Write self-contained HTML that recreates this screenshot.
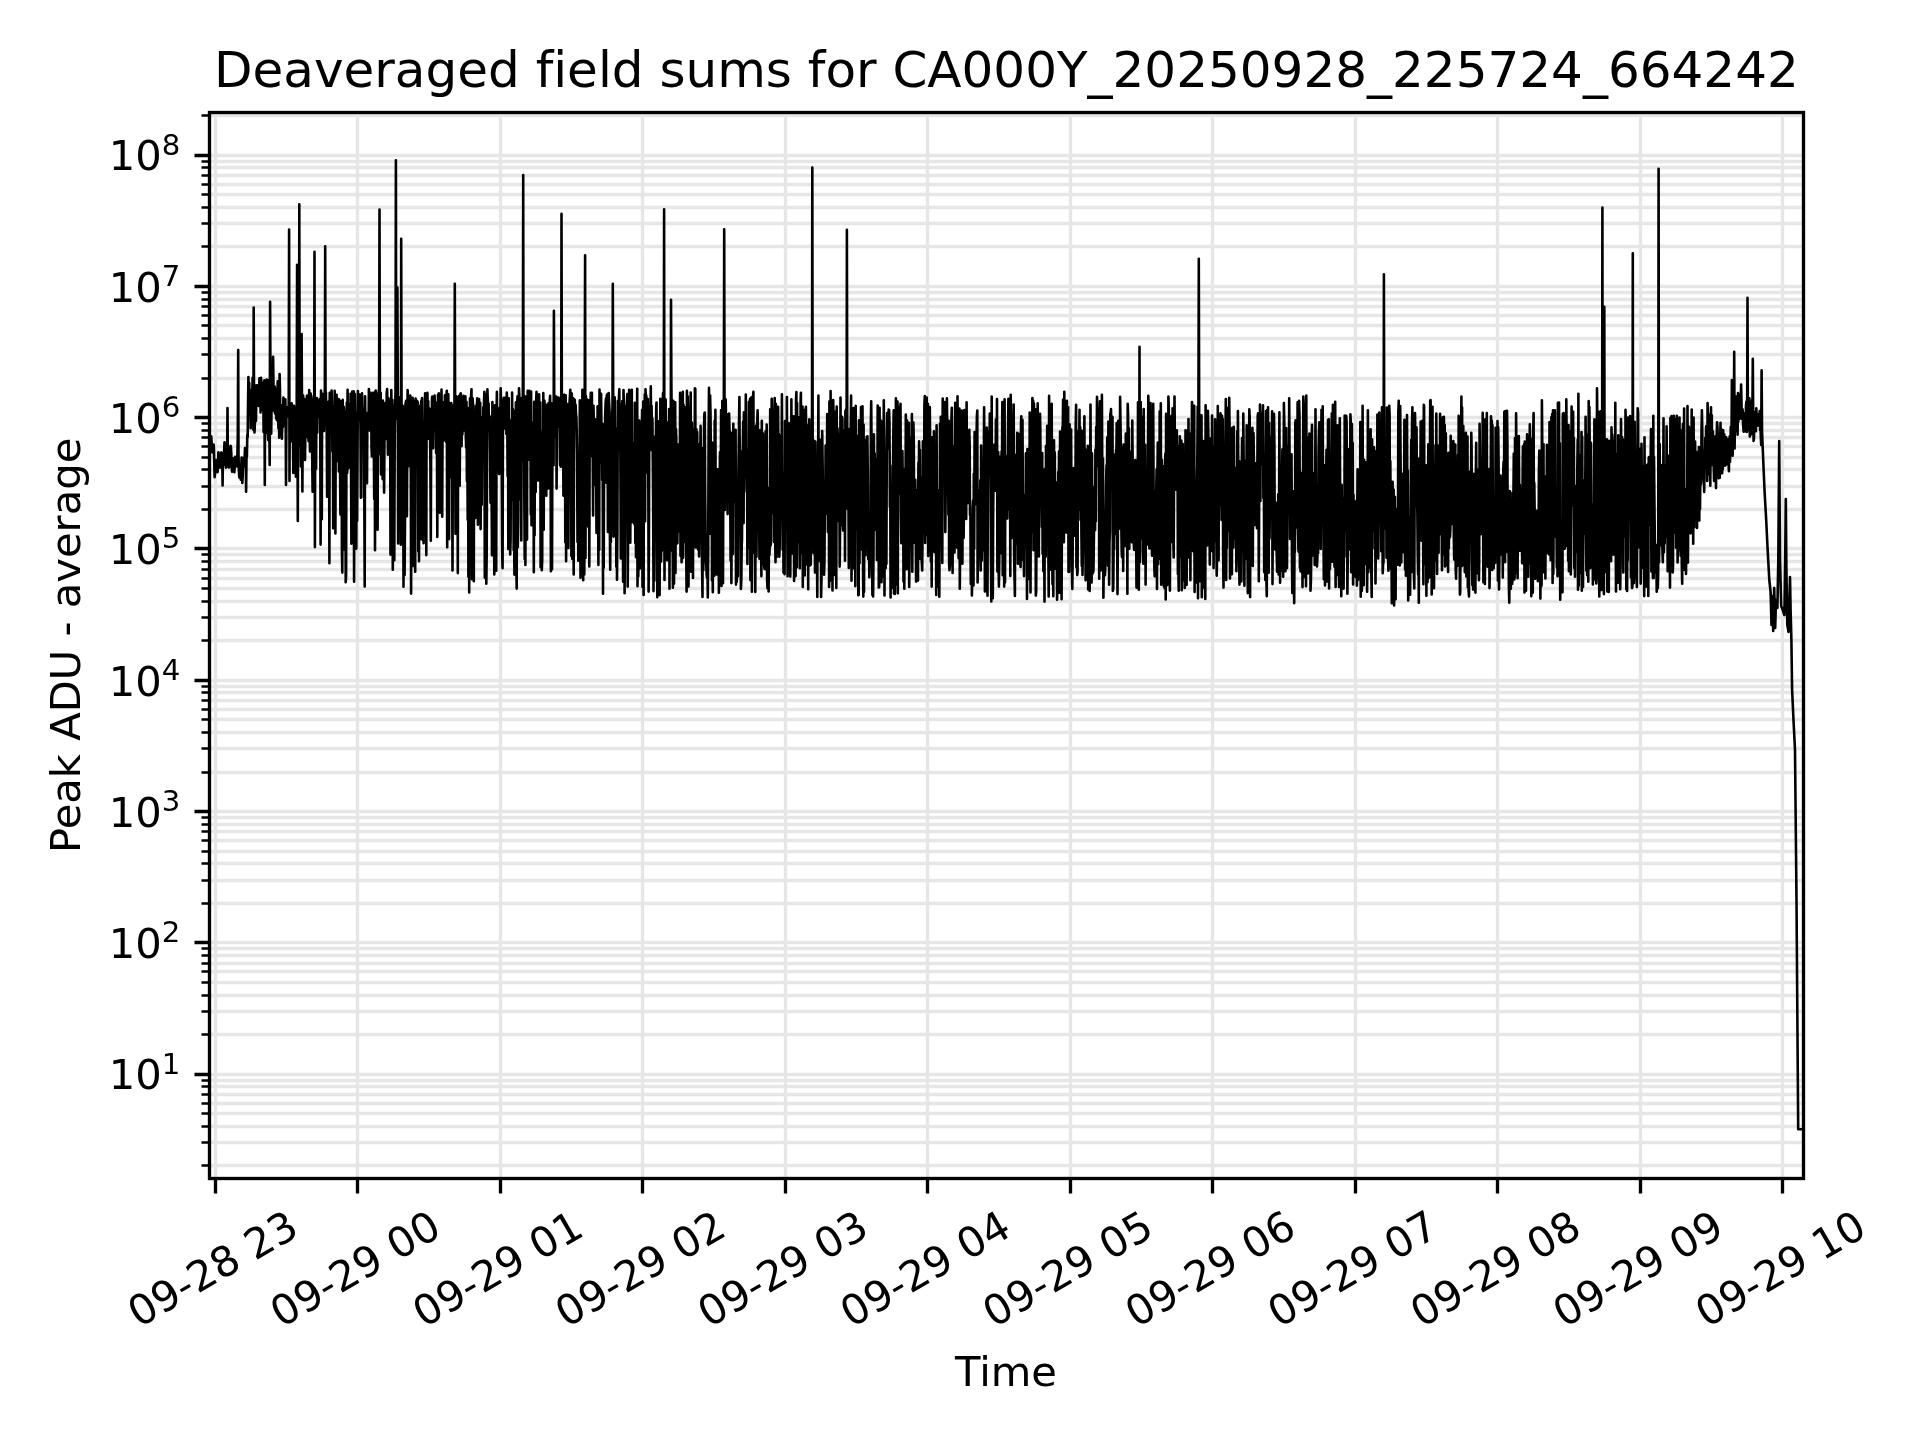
<!DOCTYPE html>
<html lang="en"><head><meta charset="utf-8"><title>Deaveraged field sums</title>
<style>html,body{margin:0;padding:0;background:#fff;}body{width:1920px;height:1440px;overflow:hidden;}svg{display:block;filter:grayscale(1);}text{font-family:"DejaVu Sans", "Liberation Sans", sans-serif;fill:#000;font-variant-ligatures:none;font-kerning:normal;}</style></head><body>
<svg width="1920" height="1440" viewBox="0 0 1920 1440">
<rect x="0" y="0" width="1920" height="1440" fill="#ffffff"/>
<defs><clipPath id="ax"><rect x="208.907" y="112.000" width="1594.393" height="1065.606"/></clipPath></defs>
<g clip-path="url(#ax)"><path d="M215.5 112.0V1177.6M357.5 112.0V1177.6M500.5 112.0V1177.6M642.5 112.0V1177.6M785.5 112.0V1177.6M927.5 112.0V1177.6M1070.5 112.0V1177.6M1212.5 112.0V1177.6M1355.5 112.0V1177.6M1497.5 112.0V1177.6M1640.5 112.0V1177.6M1782.5 112.0V1177.6M208.9 1165.5H1803.3M208.9 1142.5H1803.3M208.9 1126.5H1803.3M208.9 1113.5H1803.3M208.9 1103.5H1803.3M208.9 1094.5H1803.3M208.9 1086.5H1803.3M208.9 1080.5H1803.3M208.9 1074.5H1803.3M208.9 1034.5H1803.3M208.9 1011.5H1803.3M208.9 995.5H1803.3M208.9 982.5H1803.3M208.9 971.5H1803.3M208.9 963.5H1803.3M208.9 955.5H1803.3M208.9 948.5H1803.3M208.9 942.5H1803.3M208.9 903.5H1803.3M208.9 880.5H1803.3M208.9 863.5H1803.3M208.9 851.5H1803.3M208.9 840.5H1803.3M208.9 831.5H1803.3M208.9 824.5H1803.3M208.9 817.5H1803.3M208.9 811.5H1803.3M208.9 772.5H1803.3M208.9 748.5H1803.3M208.9 732.5H1803.3M208.9 719.5H1803.3M208.9 709.5H1803.3M208.9 700.5H1803.3M208.9 692.5H1803.3M208.9 686.5H1803.3M208.9 680.5H1803.3M208.9 640.5H1803.3M208.9 617.5H1803.3M208.9 601.5H1803.3M208.9 588.5H1803.3M208.9 578.5H1803.3M208.9 569.5H1803.3M208.9 561.5H1803.3M208.9 554.5H1803.3M208.9 548.5H1803.3M208.9 509.5H1803.3M208.9 486.5H1803.3M208.9 469.5H1803.3M208.9 457.5H1803.3M208.9 446.5H1803.3M208.9 437.5H1803.3M208.9 430.5H1803.3M208.9 423.5H1803.3M208.9 417.5H1803.3M208.9 378.5H1803.3M208.9 354.5H1803.3M208.9 338.5H1803.3M208.9 325.5H1803.3M208.9 315.5H1803.3M208.9 306.5H1803.3M208.9 299.5H1803.3M208.9 292.5H1803.3M208.9 286.5H1803.3M208.9 246.5H1803.3M208.9 223.5H1803.3M208.9 207.5H1803.3M208.9 194.5H1803.3M208.9 184.5H1803.3M208.9 175.5H1803.3M208.9 167.5H1803.3M208.9 161.5H1803.3M208.9 155.5H1803.3M208.9 115.5H1803.3" stroke="#e6e6e6" stroke-width="3.333" fill="none"/>
<polyline points="208.9,442.5 209.3,444.6 209.7,444.0 210.0,441.4 210.4,443.1 210.8,440.8 211.2,436.4 211.6,442.6 211.9,451.7 212.3,452.4 212.7,448.6 213.1,447.4 213.5,444.5 213.8,445.4 214.2,460.1 214.6,477.3 215.0,473.9 215.4,462.9 215.7,462.6 216.1,460.0 216.5,463.8 216.9,471.7 217.3,470.2 217.6,472.2 218.0,465.3 218.4,452.3 218.8,455.8 219.2,462.3 219.5,462.5 219.9,467.5 220.3,467.5 220.7,457.6 221.1,452.5 221.4,452.5 221.8,453.6 222.2,453.8 222.6,485.4 223.0,453.6 223.3,464.7 223.7,465.1 224.1,450.9 224.5,442.4 224.9,449.2 225.2,457.3 225.6,461.1 226.0,467.6 226.4,464.2 226.8,456.7 227.1,457.6 227.5,408.0 227.9,466.5 228.3,458.6 228.7,455.1 229.0,467.5 229.4,464.1 229.8,450.3 230.2,446.5 230.6,445.9 230.9,446.2 231.3,453.4 231.7,467.3 232.1,471.7 232.5,461.7 232.8,458.3 233.2,464.5 233.6,465.2 234.0,466.7 234.4,472.2 234.7,465.7 235.1,456.9 235.5,460.1 235.9,461.6 236.3,460.0 236.6,464.5 237.0,466.4 237.4,454.7 237.8,436.8 238.2,350.0 238.5,453.1 238.9,470.9 239.3,477.5 239.7,476.4 240.1,466.4 240.4,468.5 240.8,479.8 241.2,469.4 241.6,457.5 242.0,468.2 242.3,482.9 242.7,476.5 243.1,462.7 243.5,457.9 243.9,460.6 244.2,466.4 244.6,459.7 245.0,448.1 245.4,449.4 245.8,452.5 246.1,491.7 246.5,457.7 246.9,456.3 247.3,434.9 247.7,437.1 248.0,405.9 248.4,377.1 248.8,399.6 249.2,382.8 249.6,413.9 249.9,391.8 250.3,391.4 250.7,428.2 251.1,392.1 251.5,389.8 251.8,389.8 252.2,397.0 252.6,377.9 253.0,401.0 253.4,429.7 253.7,307.5 254.1,414.6 254.5,432.4 254.9,422.6 255.3,414.7 255.6,420.3 256.0,420.9 256.4,385.2 256.8,397.4 257.2,389.7 257.5,385.6 257.9,402.9 258.3,388.5 258.7,406.0 259.1,403.7 259.4,378.4 259.8,395.2 260.2,392.3 260.6,412.4 261.0,377.7 261.3,381.3 261.7,399.5 262.1,393.2 262.5,409.6 262.9,389.4 263.2,382.7 263.6,432.1 264.0,384.9 264.4,380.4 264.8,485.0 265.1,389.8 265.5,384.1 265.9,401.2 266.3,433.0 266.7,379.5 267.0,394.0 267.4,410.2 267.8,428.0 268.2,440.0 268.6,380.3 268.9,401.4 269.3,427.9 269.7,465.0 270.1,301.7 270.5,381.7 270.8,418.1 271.2,433.7 271.6,401.7 272.0,374.4 272.4,376.8 272.7,394.3 273.1,356.7 273.5,384.8 273.9,410.8 274.3,393.8 274.6,386.3 275.0,413.5 275.4,388.6 275.8,392.0 276.2,418.5 276.5,399.3 276.9,420.1 277.3,400.6 277.7,381.2 278.1,396.2 278.4,428.2 278.8,403.9 279.2,437.7 279.6,374.0 280.0,390.4 280.3,419.2 280.7,412.6 281.1,405.0 281.5,416.5 281.9,438.7 282.2,426.7 282.6,421.5 283.0,426.9 283.4,397.5 283.8,425.2 284.1,424.2 284.5,402.1 284.9,409.1 285.3,399.3 285.7,420.3 286.0,485.0 286.4,418.5 286.8,411.7 287.2,407.2 287.6,407.3 287.9,410.4 288.3,416.1 288.7,404.3 289.1,229.5 289.5,481.0 289.8,411.6 290.2,407.0 290.6,418.3 291.0,407.0 291.4,441.2 291.7,403.3 292.1,409.3 292.5,412.6 292.9,426.2 293.3,473.0 293.6,426.1 294.0,405.9 294.4,413.7 294.8,417.5 295.2,428.2 295.5,433.3 295.9,476.8 296.3,412.9 296.7,408.9 297.1,264.7 297.4,416.7 297.8,521.0 298.2,408.4 298.6,445.4 299.0,405.2 299.3,204.2 299.7,420.6 300.1,405.1 300.5,402.2 300.9,466.4 301.2,394.2 301.6,334.0 302.0,405.9 302.4,491.4 302.8,406.4 303.1,395.3 303.5,410.5 303.9,428.6 304.3,398.7 304.7,404.7 305.0,460.0 305.4,425.3 305.8,403.7 306.2,437.0 306.6,409.0 306.9,395.9 307.3,415.5 307.7,395.7 308.1,400.6 308.5,441.1 308.8,411.9 309.2,390.0 309.6,430.0 310.0,451.5 310.4,400.4 310.7,393.6 311.1,416.9 311.5,403.2 311.9,407.1 312.3,467.3 312.6,491.8 313.0,403.4 313.4,398.8 313.8,395.5 314.2,397.2 314.5,251.7 314.9,547.1 315.3,416.6 315.7,408.5 316.1,468.7 316.4,410.0 316.8,398.0 317.2,432.7 317.6,406.5 318.0,399.9 318.3,411.5 318.7,410.1 319.1,402.8 319.5,417.3 319.9,398.9 320.2,412.2 320.6,544.6 321.0,390.6 321.4,411.8 321.8,519.3 322.1,393.6 322.5,410.0 322.9,393.7 323.3,398.3 323.7,399.2 324.0,430.9 324.4,411.9 324.8,405.3 325.2,246.2 325.6,412.4 325.9,392.3 326.3,419.2 326.7,419.4 327.1,496.8 327.5,491.4 327.8,423.3 328.2,401.7 328.6,410.0 329.0,410.1 329.4,563.3 329.7,392.9 330.1,395.2 330.5,393.2 330.9,428.9 331.3,398.9 331.6,390.5 332.0,405.1 332.4,451.8 332.8,407.6 333.2,528.2 333.5,408.3 333.9,409.0 334.3,493.8 334.7,390.8 335.1,413.9 335.4,533.5 335.8,411.7 336.2,419.2 336.6,394.7 337.0,460.9 337.3,405.4 337.7,450.3 338.1,405.7 338.5,399.0 338.9,471.4 339.2,399.6 339.6,412.8 340.0,461.0 340.4,514.4 340.8,422.0 341.1,401.3 341.5,413.1 341.9,550.2 342.3,572.6 342.7,399.9 343.0,436.6 343.4,549.4 343.8,406.9 344.2,413.3 344.6,420.4 344.9,463.2 345.3,417.3 345.7,582.2 346.1,575.9 346.5,426.0 346.8,402.5 347.2,473.0 347.6,389.9 348.0,468.6 348.4,403.7 348.7,416.4 349.1,410.7 349.5,467.4 349.9,445.7 350.3,416.1 350.6,393.8 351.0,460.3 351.4,543.7 351.8,478.7 352.2,391.5 352.5,392.6 352.9,405.1 353.3,405.8 353.7,391.4 354.1,581.7 354.4,395.0 354.8,393.9 355.2,421.4 355.6,454.9 356.0,444.2 356.3,548.6 356.7,412.9 357.1,520.7 357.5,457.1 357.9,391.0 358.2,421.0 358.6,419.4 359.0,412.9 359.4,397.6 359.8,394.6 360.1,403.7 360.5,427.3 360.9,497.8 361.3,398.3 361.7,413.6 362.0,393.2 362.4,409.0 362.8,435.1 363.2,408.2 363.6,419.3 363.9,497.5 364.3,493.6 364.7,586.5 365.1,396.4 365.5,440.8 365.8,435.9 366.2,418.4 366.6,414.5 367.0,483.3 367.4,412.9 367.7,431.0 368.1,415.2 368.5,428.5 368.9,389.0 369.3,404.5 369.6,392.4 370.0,402.1 370.4,431.0 370.8,413.9 371.2,394.7 371.5,447.1 371.9,456.5 372.3,392.7 372.7,410.0 373.1,395.5 373.4,413.5 373.8,443.8 374.2,499.1 374.6,392.2 375.0,550.3 375.3,411.3 375.7,390.5 376.1,515.5 376.5,499.0 376.9,393.4 377.2,403.8 377.6,529.7 378.0,411.1 378.4,454.6 378.8,390.3 379.1,391.1 379.5,209.5 379.9,406.4 380.3,402.5 380.7,392.7 381.0,474.5 381.4,424.3 381.8,448.6 382.2,420.8 382.6,479.1 382.9,400.6 383.3,409.1 383.7,451.0 384.1,492.6 384.5,435.2 384.8,405.4 385.2,406.6 385.6,402.8 386.0,409.7 386.4,439.0 386.7,393.2 387.1,389.1 387.5,406.9 387.9,454.8 388.3,399.4 388.6,398.2 389.0,437.4 389.4,421.8 389.8,426.4 390.2,432.1 390.5,554.6 390.9,474.3 391.3,390.0 391.7,437.3 392.1,404.1 392.4,399.9 392.8,569.8 393.2,409.1 393.6,423.7 394.0,405.4 394.3,560.2 394.7,436.9 395.1,408.9 395.5,392.6 395.9,160.3 396.2,408.5 396.6,419.0 397.0,418.6 397.4,287.5 397.8,400.8 398.1,543.4 398.5,412.8 398.9,406.7 399.3,397.4 399.7,508.1 400.0,430.8 400.4,412.5 400.8,544.7 401.2,238.8 401.6,429.6 401.9,413.7 402.3,412.9 402.7,405.9 403.1,410.7 403.5,586.8 403.8,431.5 404.2,413.6 404.6,575.1 405.0,522.4 405.4,404.7 405.7,403.0 406.1,400.8 406.5,441.9 406.9,516.3 407.3,441.3 407.6,390.0 408.0,397.0 408.4,463.9 408.8,466.1 409.2,415.0 409.5,451.8 409.9,428.0 410.3,395.6 410.7,418.5 411.1,593.6 411.4,456.9 411.8,437.5 412.2,417.3 412.6,397.8 413.0,566.0 413.3,407.4 413.7,410.3 414.1,415.8 414.5,522.5 414.9,400.8 415.2,571.7 415.6,398.5 416.0,407.4 416.4,400.5 416.8,421.4 417.1,401.0 417.5,424.2 417.9,402.4 418.3,551.6 418.7,424.5 419.0,561.3 419.4,406.0 419.8,500.9 420.2,416.2 420.6,406.8 420.9,539.0 421.3,400.9 421.7,402.5 422.1,398.0 422.5,539.8 422.8,435.7 423.2,497.8 423.6,543.2 424.0,437.0 424.4,421.7 424.7,430.4 425.1,393.2 425.5,403.9 425.9,402.0 426.3,555.1 426.6,409.7 427.0,417.2 427.4,392.8 427.8,418.4 428.2,401.0 428.5,438.7 428.9,412.0 429.3,408.4 429.7,420.8 430.1,438.9 430.4,463.8 430.8,540.8 431.2,421.4 431.6,441.4 432.0,398.0 432.3,396.6 432.7,406.3 433.1,448.2 433.5,412.7 433.9,415.8 434.2,406.3 434.6,395.6 435.0,416.6 435.4,429.4 435.8,411.1 436.1,453.3 436.5,402.7 436.9,427.4 437.3,536.9 437.7,416.3 438.0,394.7 438.4,409.5 438.8,393.3 439.2,487.7 439.6,485.5 439.9,512.7 440.3,445.7 440.7,435.5 441.1,451.0 441.5,389.5 441.8,440.1 442.2,516.8 442.6,412.5 443.0,409.3 443.4,433.9 443.7,402.0 444.1,405.7 444.5,440.2 444.9,395.3 445.3,403.7 445.6,435.1 446.0,441.6 446.4,396.1 446.8,390.8 447.2,547.2 447.5,413.3 447.9,402.6 448.3,394.4 448.7,473.0 449.1,539.1 449.4,402.8 449.8,452.9 450.2,417.0 450.6,477.2 451.0,436.0 451.3,403.0 451.7,414.1 452.1,446.0 452.5,570.4 452.9,437.7 453.2,405.2 453.6,422.4 454.0,411.7 454.4,419.2 454.8,283.7 455.1,398.6 455.5,533.8 455.9,396.0 456.3,442.1 456.7,476.0 457.0,413.3 457.4,397.3 457.8,573.1 458.2,403.2 458.6,398.9 458.9,396.0 459.3,461.0 459.7,485.7 460.1,416.2 460.5,393.5 460.8,393.4 461.2,421.4 461.6,446.1 462.0,414.7 462.4,434.5 462.7,399.2 463.1,398.8 463.5,395.9 463.9,398.5 464.3,397.5 464.6,430.6 465.0,428.0 465.4,396.3 465.8,437.1 466.2,447.7 466.5,401.9 466.9,481.3 467.3,424.1 467.7,519.8 468.1,408.2 468.4,576.7 468.8,416.1 469.2,592.5 469.6,429.3 470.0,398.3 470.3,433.9 470.7,436.5 471.1,395.6 471.5,389.3 471.9,579.3 472.2,397.8 472.6,398.5 473.0,404.2 473.4,454.0 473.8,581.2 474.1,426.2 474.5,422.0 474.9,411.2 475.3,518.1 475.7,405.8 476.0,421.3 476.4,459.8 476.8,408.1 477.2,398.4 477.6,418.6 477.9,524.8 478.3,421.3 478.7,401.4 479.1,399.1 479.5,463.0 479.8,443.8 480.2,402.7 480.6,529.1 481.0,446.2 481.4,466.4 481.7,504.7 482.1,428.2 482.5,417.1 482.9,437.1 483.3,407.3 483.6,442.6 484.0,401.4 484.4,391.9 484.8,577.8 485.2,394.1 485.5,424.5 485.9,542.8 486.3,583.8 486.7,555.5 487.1,453.6 487.4,389.4 487.8,400.7 488.2,404.3 488.6,403.4 489.0,430.5 489.3,422.0 489.7,416.2 490.1,452.9 490.5,502.7 490.9,430.7 491.2,422.7 491.6,492.1 492.0,555.2 492.4,402.0 492.8,512.7 493.1,414.4 493.5,406.2 493.9,488.6 494.3,574.4 494.7,408.6 495.0,405.3 495.4,428.8 495.8,451.5 496.2,570.8 496.6,410.3 496.9,391.7 497.3,452.9 497.7,420.1 498.1,418.5 498.5,414.7 498.8,460.4 499.2,473.9 499.6,407.7 500.0,411.4 500.4,410.5 500.7,388.2 501.1,404.7 501.5,404.3 501.9,494.4 502.3,560.7 502.6,568.3 503.0,401.1 503.4,401.3 503.8,397.7 504.2,419.2 504.5,401.3 504.9,428.4 505.3,413.3 505.7,397.3 506.1,412.4 506.4,434.0 506.8,392.5 507.2,405.0 507.6,476.1 508.0,401.8 508.3,549.1 508.7,398.2 509.1,530.9 509.5,495.8 509.9,420.3 510.2,554.4 510.6,539.1 511.0,423.4 511.4,484.6 511.8,456.1 512.1,392.5 512.5,499.9 512.9,409.0 513.3,467.9 513.7,550.2 514.0,490.6 514.4,574.6 514.8,447.9 515.2,411.1 515.6,556.3 515.9,402.2 516.3,564.9 516.7,588.6 517.1,407.0 517.5,396.3 517.8,547.2 518.2,524.0 518.6,438.0 519.0,388.2 519.4,397.3 519.7,499.3 520.1,423.3 520.5,418.5 520.9,416.5 521.3,540.5 521.6,406.6 522.0,397.7 522.4,460.8 522.8,404.1 523.2,175.0 523.5,415.2 523.9,395.7 524.3,492.3 524.7,558.9 525.1,507.4 525.4,565.0 525.8,396.5 526.2,407.4 526.6,480.0 527.0,539.6 527.3,418.2 527.7,390.9 528.1,431.3 528.5,459.6 528.9,446.3 529.2,390.8 529.6,428.0 530.0,438.7 530.4,418.8 530.8,514.6 531.1,391.5 531.5,525.3 531.9,496.1 532.3,433.3 532.7,518.0 533.0,507.3 533.4,422.4 533.8,572.3 534.2,401.9 534.6,535.3 534.9,418.4 535.3,431.0 535.7,491.9 536.1,402.7 536.5,391.9 536.8,401.5 537.2,421.2 537.6,415.5 538.0,480.4 538.4,421.4 538.7,410.1 539.1,394.4 539.5,419.6 539.9,406.1 540.3,402.2 540.6,567.3 541.0,458.6 541.4,492.6 541.8,570.3 542.2,559.9 542.5,431.9 542.9,508.1 543.3,393.0 543.7,529.8 544.1,416.1 544.4,400.6 544.8,407.0 545.2,462.3 545.6,416.1 546.0,487.4 546.3,495.8 546.7,404.9 547.1,414.2 547.5,445.7 547.9,425.2 548.2,488.4 548.6,403.0 549.0,413.4 549.4,411.7 549.8,399.5 550.1,395.8 550.5,433.6 550.9,571.3 551.3,435.9 551.7,403.2 552.0,569.3 552.4,447.8 552.8,404.6 553.2,416.2 553.6,465.2 553.9,310.8 554.3,408.7 554.7,406.3 555.1,402.5 555.5,436.5 555.8,397.1 556.2,396.5 556.6,488.6 557.0,401.5 557.4,401.0 557.7,407.3 558.1,426.8 558.5,397.5 558.9,400.9 559.3,408.6 559.6,417.2 560.0,465.1 560.4,401.4 560.8,466.7 561.2,424.9 561.5,213.8 561.9,421.7 562.3,409.0 562.7,428.7 563.1,394.9 563.4,495.6 563.8,395.0 564.2,394.6 564.6,420.0 565.0,424.5 565.3,542.2 565.7,395.3 566.1,561.3 566.5,411.2 566.9,468.2 567.2,404.0 567.6,495.0 568.0,409.0 568.4,548.0 568.8,434.7 569.1,403.7 569.5,403.2 569.9,396.9 570.3,389.9 570.7,405.1 571.0,421.1 571.4,556.0 571.8,393.6 572.2,558.8 572.6,551.9 572.9,527.0 573.3,398.2 573.7,574.4 574.1,412.3 574.5,406.1 574.8,399.8 575.2,425.5 575.6,404.8 576.0,413.8 576.4,417.3 576.7,430.7 577.1,454.4 577.5,542.0 577.9,461.9 578.3,560.7 578.6,549.8 579.0,549.2 579.4,548.4 579.8,400.4 580.2,428.4 580.5,577.8 580.9,439.3 581.3,462.4 581.7,405.7 582.1,465.2 582.4,389.7 582.8,522.8 583.2,580.2 583.6,396.9 584.0,459.2 584.3,574.5 584.7,404.5 585.1,255.3 585.5,557.9 585.9,396.0 586.2,430.2 586.6,486.7 587.0,399.2 587.4,452.0 587.8,426.2 588.1,526.6 588.5,517.2 588.9,400.4 589.3,566.5 589.7,437.4 590.0,428.9 590.4,404.6 590.8,392.9 591.2,425.5 591.6,399.4 591.9,392.9 592.3,456.7 592.7,451.5 593.1,515.5 593.5,405.8 593.8,420.8 594.2,484.7 594.6,464.2 595.0,432.0 595.4,419.3 595.7,479.2 596.1,460.0 596.5,532.9 596.9,431.1 597.3,498.6 597.6,406.4 598.0,462.2 598.4,565.0 598.8,423.3 599.2,549.9 599.5,389.6 599.9,432.7 600.3,424.4 600.7,462.4 601.1,393.7 601.4,424.8 601.8,424.8 602.2,479.9 602.6,423.7 603.0,593.8 603.3,435.7 603.7,567.8 604.1,458.7 604.5,470.0 604.9,437.5 605.2,414.1 605.6,403.2 606.0,398.2 606.4,482.8 606.8,395.3 607.1,404.7 607.5,394.1 607.9,532.0 608.3,487.0 608.7,393.0 609.0,400.8 609.4,407.5 609.8,521.6 610.2,569.7 610.6,426.4 610.9,541.9 611.3,445.3 611.7,452.8 612.1,412.5 612.5,407.5 612.8,283.8 613.2,394.6 613.6,536.6 614.0,431.0 614.4,451.6 614.7,397.4 615.1,464.7 615.5,428.5 615.9,442.2 616.3,566.8 616.6,479.7 617.0,579.8 617.4,533.9 617.8,400.7 618.2,449.2 618.5,424.3 618.9,398.3 619.3,389.3 619.7,430.0 620.1,419.1 620.4,461.0 620.8,558.5 621.2,413.3 621.6,404.2 622.0,440.1 622.3,401.0 622.7,436.9 623.1,581.8 623.5,390.0 623.9,403.7 624.2,455.8 624.6,593.3 625.0,519.9 625.4,406.4 625.8,410.8 626.1,451.3 626.5,428.6 626.9,403.0 627.3,394.1 627.7,586.6 628.0,545.0 628.4,411.6 628.8,402.8 629.2,389.9 629.6,397.3 629.9,457.1 630.3,542.8 630.7,435.1 631.1,392.7 631.5,522.3 631.8,389.8 632.2,505.4 632.6,443.5 633.0,522.3 633.4,517.4 633.7,443.1 634.1,476.2 634.5,524.4 634.9,402.7 635.3,542.9 635.6,430.5 636.0,557.3 636.4,432.6 636.8,450.2 637.2,388.8 637.5,586.2 637.9,524.7 638.3,576.2 638.7,465.4 639.1,464.2 639.4,420.5 639.8,568.6 640.2,493.9 640.6,563.1 641.0,543.0 641.3,550.5 641.7,503.8 642.1,409.8 642.5,587.0 642.9,502.0 643.2,401.6 643.6,594.9 644.0,409.3 644.4,462.3 644.8,394.6 645.1,521.3 645.5,389.2 645.9,396.8 646.3,395.5 646.7,472.5 647.0,419.9 647.4,438.2 647.8,399.1 648.2,434.6 648.6,591.6 648.9,553.8 649.3,420.2 649.7,407.0 650.1,438.5 650.5,409.8 650.8,386.4 651.2,449.9 651.6,406.0 652.0,441.9 652.4,418.6 652.7,448.5 653.1,497.4 653.5,591.1 653.9,483.5 654.3,580.7 654.6,518.0 655.0,436.6 655.4,436.5 655.8,446.7 656.2,408.0 656.5,402.5 656.9,477.6 657.3,597.3 657.7,428.0 658.1,421.4 658.4,523.4 658.8,585.7 659.2,520.9 659.6,595.1 660.0,477.0 660.3,398.9 660.7,447.4 661.1,561.5 661.5,478.0 661.9,550.7 662.2,399.3 662.6,430.7 663.0,393.0 663.4,392.8 663.8,413.9 664.1,209.2 664.5,580.0 664.9,445.8 665.3,430.7 665.7,399.6 666.0,546.4 666.4,421.8 666.8,433.0 667.2,560.3 667.6,481.3 667.9,448.1 668.3,510.5 668.7,521.4 669.1,409.0 669.5,588.8 669.8,428.0 670.2,440.7 670.6,550.6 671.0,299.7 671.4,386.2 671.7,417.0 672.1,448.8 672.5,504.7 672.9,587.8 673.3,400.8 673.6,402.6 674.0,583.8 674.4,420.0 674.8,473.2 675.2,402.4 675.5,573.0 675.9,428.9 676.3,437.4 676.7,496.4 677.1,542.2 677.4,543.3 677.8,444.5 678.2,495.3 678.6,496.1 679.0,467.8 679.3,531.4 679.7,506.3 680.1,392.8 680.5,555.8 680.9,428.7 681.2,515.9 681.6,562.2 682.0,475.2 682.4,403.8 682.8,391.9 683.1,557.9 683.5,404.7 683.9,422.5 684.3,410.0 684.7,435.1 685.0,542.0 685.4,415.7 685.8,407.1 686.2,551.3 686.6,591.6 686.9,390.7 687.3,416.3 687.7,396.4 688.1,446.8 688.5,586.4 688.8,539.6 689.2,408.4 689.6,468.9 690.0,438.8 690.4,408.6 690.7,392.5 691.1,571.7 691.5,449.0 691.9,422.5 692.3,448.7 692.6,437.9 693.0,577.9 693.4,430.1 693.8,451.4 694.2,513.7 694.5,536.2 694.9,388.3 695.3,389.0 695.7,547.4 696.1,518.9 696.4,429.3 696.8,502.7 697.2,432.0 697.6,486.6 698.0,549.4 698.3,528.3 698.7,477.9 699.1,556.4 699.5,447.2 699.9,443.9 700.2,462.1 700.6,425.9 701.0,510.2 701.4,490.6 701.8,545.3 702.1,568.4 702.5,597.0 702.9,448.1 703.3,570.3 703.7,537.9 704.0,429.4 704.4,413.5 704.8,412.5 705.2,496.1 705.6,532.5 705.9,560.3 706.3,565.5 706.7,576.0 707.1,578.1 707.5,574.0 707.8,597.5 708.2,550.7 708.6,435.7 709.0,387.7 709.4,491.6 709.7,533.8 710.1,395.2 710.5,412.7 710.9,459.3 711.3,443.1 711.6,441.9 712.0,580.4 712.4,546.0 712.8,592.2 713.2,443.9 713.5,469.4 713.9,572.0 714.3,575.8 714.7,420.5 715.1,508.3 715.4,409.9 715.8,567.2 716.2,567.9 716.6,574.5 717.0,484.3 717.3,494.1 717.7,469.4 718.1,531.6 718.5,481.4 718.9,592.7 719.2,494.2 719.6,485.2 720.0,452.0 720.4,452.9 720.8,465.7 721.1,410.1 721.5,586.0 721.9,503.8 722.3,401.1 722.7,561.9 723.0,583.3 723.4,438.4 723.8,419.7 724.2,229.2 724.6,443.8 724.9,510.0 725.3,406.7 725.7,399.4 726.1,423.1 726.5,418.1 726.8,439.2 727.2,414.3 727.6,514.1 728.0,426.9 728.4,485.5 728.7,417.4 729.1,413.5 729.5,428.6 729.9,438.2 730.3,505.9 730.6,560.6 731.0,432.7 731.4,583.1 731.8,471.5 732.2,449.7 732.5,452.7 732.9,554.0 733.3,423.7 733.7,494.7 734.1,456.7 734.4,501.7 734.8,483.8 735.2,433.5 735.6,429.8 736.0,584.6 736.3,512.1 736.7,581.9 737.1,571.0 737.5,523.4 737.9,576.3 738.2,487.3 738.6,458.8 739.0,423.2 739.4,397.0 739.8,455.1 740.1,501.1 740.5,492.7 740.9,588.9 741.3,580.8 741.7,545.8 742.0,539.7 742.4,450.5 742.8,452.4 743.2,421.6 743.6,523.1 743.9,412.3 744.3,418.9 744.7,456.2 745.1,416.5 745.5,453.7 745.8,394.5 746.2,468.5 746.6,491.8 747.0,449.9 747.4,564.0 747.7,462.4 748.1,480.4 748.5,548.0 748.9,401.8 749.3,503.6 749.6,421.5 750.0,398.9 750.4,580.1 750.8,540.6 751.2,494.1 751.5,397.3 751.9,591.8 752.3,521.4 752.7,497.3 753.1,395.5 753.4,391.9 753.8,552.6 754.2,427.0 754.6,495.7 755.0,449.3 755.3,592.0 755.7,463.9 756.1,425.8 756.5,556.7 756.9,425.6 757.2,421.9 757.6,410.2 758.0,434.6 758.4,494.7 758.8,453.1 759.1,523.4 759.5,558.8 759.9,430.2 760.3,490.4 760.7,552.0 761.0,531.1 761.4,576.3 761.8,420.8 762.2,535.1 762.6,455.2 762.9,433.3 763.3,478.5 763.7,558.1 764.1,565.2 764.5,568.9 764.8,439.3 765.2,494.1 765.6,431.4 766.0,439.4 766.4,569.7 766.7,424.6 767.1,580.5 767.5,588.3 767.9,487.9 768.3,520.4 768.6,591.5 769.0,534.8 769.4,554.9 769.8,545.4 770.2,409.3 770.5,545.8 770.9,543.8 771.3,431.4 771.7,398.7 772.1,466.5 772.4,510.0 772.8,467.0 773.2,513.3 773.6,478.4 774.0,541.9 774.3,412.9 774.7,398.1 775.1,523.7 775.5,562.3 775.9,403.9 776.2,492.3 776.6,556.9 777.0,541.1 777.4,479.4 777.8,470.7 778.1,406.7 778.5,498.6 778.9,434.0 779.3,556.8 779.7,546.3 780.0,500.5 780.4,449.3 780.8,449.9 781.2,435.7 781.6,466.6 781.9,394.3 782.3,496.8 782.7,549.8 783.1,472.7 783.5,572.6 783.8,510.3 784.2,562.5 784.6,574.1 785.0,421.0 785.4,454.5 785.7,433.3 786.1,439.2 786.5,529.9 786.9,397.0 787.3,520.5 787.6,576.2 788.0,491.2 788.4,534.0 788.8,423.1 789.2,547.7 789.5,556.0 789.9,518.5 790.3,576.6 790.7,509.7 791.1,522.0 791.4,399.4 791.8,553.4 792.2,467.7 792.6,544.0 793.0,494.2 793.3,433.3 793.7,416.2 794.1,581.0 794.5,512.8 794.9,416.8 795.2,504.5 795.6,576.1 796.0,399.2 796.4,392.1 796.8,567.2 797.1,403.1 797.5,542.0 797.9,460.7 798.3,514.2 798.7,429.4 799.0,417.4 799.4,509.8 799.8,568.3 800.2,513.5 800.6,401.6 800.9,392.8 801.3,553.1 801.7,472.1 802.1,438.1 802.5,406.6 802.8,586.9 803.2,497.8 803.6,423.6 804.0,442.8 804.4,410.0 804.7,575.5 805.1,489.2 805.5,497.3 805.9,406.7 806.3,453.5 806.6,424.2 807.0,564.6 807.4,484.7 807.8,454.8 808.2,589.3 808.5,465.4 808.9,461.3 809.3,419.4 809.7,488.7 810.1,565.4 810.4,505.9 810.8,564.4 811.2,464.9 811.6,538.3 812.0,426.6 812.3,167.5 812.7,473.2 813.1,460.1 813.5,553.1 813.9,440.5 814.2,496.2 814.6,471.0 815.0,572.4 815.4,441.6 815.8,470.3 816.1,543.7 816.5,461.3 816.9,548.3 817.3,597.0 817.7,486.8 818.0,504.8 818.4,395.5 818.8,560.9 819.2,468.0 819.6,515.3 819.9,439.7 820.3,509.7 820.7,498.5 821.1,597.0 821.5,578.7 821.8,514.6 822.2,431.1 822.6,461.6 823.0,499.9 823.4,558.2 823.7,565.3 824.1,574.8 824.5,559.4 824.9,492.6 825.3,501.2 825.6,445.5 826.0,513.9 826.4,467.4 826.8,513.8 827.2,414.1 827.5,418.2 827.9,532.1 828.3,491.2 828.7,438.8 829.1,586.9 829.4,401.4 829.8,581.2 830.2,566.5 830.6,391.1 831.0,576.3 831.3,548.7 831.7,438.9 832.1,513.4 832.5,590.5 832.9,420.2 833.2,400.0 833.6,419.1 834.0,575.0 834.4,418.1 834.8,416.4 835.1,411.9 835.5,562.7 835.9,438.0 836.3,588.0 836.7,406.5 837.0,498.6 837.4,428.1 837.8,434.3 838.2,435.8 838.6,521.1 838.9,443.4 839.3,470.6 839.7,566.6 840.1,526.8 840.5,397.5 840.8,456.8 841.2,525.2 841.6,466.7 842.0,416.8 842.4,418.6 842.7,473.6 843.1,530.5 843.5,495.5 843.9,440.2 844.3,430.4 844.6,458.2 845.0,560.7 845.4,410.9 845.8,419.1 846.2,409.3 846.5,508.6 846.9,229.7 847.3,460.6 847.7,458.3 848.1,483.6 848.4,488.3 848.8,567.9 849.2,458.8 849.6,428.7 850.0,561.0 850.3,440.4 850.7,430.6 851.1,395.6 851.5,580.7 851.9,532.1 852.2,521.7 852.6,414.5 853.0,568.2 853.4,408.1 853.8,525.0 854.1,537.3 854.5,493.0 854.9,444.3 855.3,586.1 855.7,405.9 856.0,455.1 856.4,523.6 856.8,529.7 857.2,436.1 857.6,449.0 857.9,475.7 858.3,595.3 858.7,595.0 859.1,420.3 859.5,563.2 859.8,481.8 860.2,449.8 860.6,479.1 861.0,407.0 861.4,549.4 861.7,520.8 862.1,449.4 862.5,406.2 862.9,550.4 863.3,596.6 863.6,424.6 864.0,592.0 864.4,504.6 864.8,440.4 865.2,547.8 865.5,555.2 865.9,464.9 866.3,517.7 866.7,437.0 867.1,520.6 867.4,436.2 867.8,475.5 868.2,559.1 868.6,552.2 869.0,536.9 869.3,577.3 869.7,559.4 870.1,515.8 870.5,534.8 870.9,421.7 871.2,401.3 871.6,452.4 872.0,554.6 872.4,594.9 872.8,440.9 873.1,596.4 873.5,556.4 873.9,434.3 874.3,507.6 874.7,453.6 875.0,529.9 875.4,469.5 875.8,482.0 876.2,520.5 876.6,459.0 876.9,559.9 877.3,518.6 877.7,405.5 878.1,517.1 878.5,483.5 878.8,587.5 879.2,586.9 879.6,407.8 880.0,550.6 880.4,528.1 880.7,502.3 881.1,420.9 881.5,582.3 881.9,519.4 882.3,519.4 882.6,576.5 883.0,422.2 883.4,478.5 883.8,400.3 884.2,457.6 884.5,595.4 884.9,465.7 885.3,566.4 885.7,568.2 886.1,513.4 886.4,564.0 886.8,444.0 887.2,413.1 887.6,449.1 888.0,418.3 888.3,420.4 888.7,409.6 889.1,409.8 889.5,423.5 889.9,506.9 890.2,465.5 890.6,597.5 891.0,524.1 891.4,579.7 891.8,549.4 892.1,581.0 892.5,587.8 892.9,479.2 893.3,435.9 893.7,410.4 894.0,593.4 894.4,445.9 894.8,593.9 895.2,545.9 895.6,563.7 895.9,398.4 896.3,584.4 896.7,410.1 897.1,531.7 897.5,401.6 897.8,593.3 898.2,406.7 898.6,433.0 899.0,494.1 899.4,430.3 899.7,420.3 900.1,472.6 900.5,403.9 900.9,515.0 901.3,543.2 901.6,492.7 902.0,522.0 902.4,451.1 902.8,490.1 903.2,517.9 903.5,581.6 903.9,504.7 904.3,588.7 904.7,468.9 905.1,521.3 905.4,534.5 905.8,414.5 906.2,565.4 906.6,569.2 907.0,420.2 907.3,533.9 907.7,481.7 908.1,430.6 908.5,439.6 908.9,422.8 909.2,587.0 909.6,548.3 910.0,545.7 910.4,437.7 910.8,546.0 911.1,449.2 911.5,501.2 911.9,414.0 912.3,571.7 912.7,454.8 913.0,537.0 913.4,422.5 913.8,441.5 914.2,542.8 914.6,542.2 914.9,524.7 915.3,479.9 915.7,531.4 916.1,581.6 916.5,557.2 916.8,544.9 917.2,489.8 917.6,494.6 918.0,580.6 918.4,462.5 918.7,500.9 919.1,441.3 919.5,485.4 919.9,449.8 920.3,558.6 920.6,541.3 921.0,477.0 921.4,552.6 921.8,563.2 922.2,570.5 922.5,540.3 922.9,441.3 923.3,532.8 923.7,454.3 924.1,494.0 924.4,405.4 924.8,396.1 925.2,543.0 925.6,494.5 926.0,491.3 926.3,517.3 926.7,397.5 927.1,533.2 927.5,535.3 927.9,403.8 928.2,556.0 928.6,504.0 929.0,505.2 929.4,462.9 929.8,407.1 930.1,438.3 930.5,437.9 930.9,561.6 931.3,527.5 931.7,586.6 932.0,437.2 932.4,548.6 932.8,532.3 933.2,485.1 933.6,547.0 933.9,431.4 934.3,552.1 934.7,451.3 935.1,506.4 935.5,529.0 935.8,445.2 936.2,594.9 936.6,425.2 937.0,579.9 937.4,586.7 937.7,558.3 938.1,490.3 938.5,561.1 938.9,529.1 939.3,596.8 939.6,540.3 940.0,423.8 940.4,509.5 940.8,416.8 941.2,501.8 941.5,417.4 941.9,497.1 942.3,562.9 942.7,398.6 943.1,472.2 943.4,404.8 943.8,466.9 944.2,471.4 944.6,402.1 945.0,461.6 945.3,532.1 945.7,492.0 946.1,423.9 946.5,487.3 946.9,398.3 947.2,423.7 947.6,485.0 948.0,428.4 948.4,514.8 948.8,420.7 949.1,564.1 949.5,570.2 949.9,566.0 950.3,555.2 950.7,531.5 951.0,555.4 951.4,419.7 951.8,407.8 952.2,460.9 952.6,572.9 952.9,492.1 953.3,514.0 953.7,446.6 954.1,510.0 954.5,552.5 954.8,515.4 955.2,402.9 955.6,469.8 956.0,480.3 956.4,423.6 956.7,407.3 957.1,547.7 957.5,396.2 957.9,456.3 958.3,517.5 958.6,558.3 959.0,454.8 959.4,408.5 959.8,588.7 960.2,538.8 960.5,540.3 960.9,527.4 961.3,542.7 961.7,410.6 962.1,425.3 962.4,563.7 962.8,456.8 963.2,521.4 963.6,537.9 964.0,507.4 964.3,410.0 964.7,518.6 965.1,499.2 965.5,466.7 965.9,499.6 966.2,519.0 966.6,402.2 967.0,477.6 967.4,438.7 967.8,503.1 968.1,433.8 968.5,475.8 968.9,491.4 969.3,429.9 969.7,447.4 970.0,515.2 970.4,514.1 970.8,583.9 971.2,533.7 971.6,517.7 971.9,595.5 972.3,571.3 972.7,508.0 973.1,500.6 973.5,585.5 973.8,473.7 974.2,548.8 974.6,432.0 975.0,433.7 975.4,454.2 975.7,504.3 976.1,475.1 976.5,438.5 976.9,416.1 977.3,410.6 977.6,582.4 978.0,557.4 978.4,554.9 978.8,528.7 979.2,514.9 979.5,490.1 979.9,538.2 980.3,480.4 980.7,570.4 981.1,445.6 981.4,486.0 981.8,560.4 982.2,520.6 982.6,550.2 983.0,542.5 983.3,476.2 983.7,488.3 984.1,407.3 984.5,474.3 984.9,591.5 985.2,429.4 985.6,585.1 986.0,577.0 986.4,560.2 986.8,427.6 987.1,572.9 987.5,595.8 987.9,475.0 988.3,436.2 988.7,431.5 989.0,454.0 989.4,456.9 989.8,413.6 990.2,443.6 990.6,483.0 990.9,551.9 991.3,601.4 991.7,396.6 992.1,573.9 992.5,582.4 992.8,598.2 993.2,506.8 993.6,477.6 994.0,444.8 994.4,455.6 994.7,454.0 995.1,449.3 995.5,490.8 995.9,419.4 996.3,422.3 996.6,490.2 997.0,399.1 997.4,571.6 997.8,531.0 998.2,452.0 998.5,558.6 998.9,586.6 999.3,560.8 999.7,456.9 1000.1,525.7 1000.4,545.5 1000.8,553.2 1001.2,478.2 1001.6,451.4 1002.0,481.5 1002.3,402.0 1002.7,575.2 1003.1,514.6 1003.5,503.2 1003.9,512.6 1004.2,586.6 1004.6,399.2 1005.0,582.4 1005.4,455.8 1005.8,504.3 1006.1,489.5 1006.5,464.1 1006.9,474.6 1007.3,518.4 1007.7,463.3 1008.0,431.2 1008.4,398.9 1008.8,465.3 1009.2,509.6 1009.6,402.4 1009.9,403.2 1010.3,576.0 1010.7,394.8 1011.1,419.2 1011.5,473.0 1011.8,538.0 1012.2,537.7 1012.6,515.0 1013.0,477.6 1013.4,473.9 1013.7,404.5 1014.1,552.2 1014.5,576.2 1014.9,596.0 1015.3,455.1 1015.6,493.1 1016.0,456.2 1016.4,544.3 1016.8,539.8 1017.2,432.9 1017.5,442.0 1017.9,563.7 1018.3,519.1 1018.7,433.8 1019.1,469.5 1019.4,495.1 1019.8,546.8 1020.2,562.7 1020.6,567.0 1021.0,422.9 1021.3,416.3 1021.7,537.0 1022.1,542.3 1022.5,419.7 1022.9,507.2 1023.2,560.4 1023.6,539.6 1024.0,576.1 1024.4,517.5 1024.8,494.8 1025.1,535.2 1025.5,546.6 1025.9,453.2 1026.3,531.2 1026.7,478.4 1027.0,598.9 1027.4,449.0 1027.8,562.6 1028.2,574.5 1028.6,562.1 1028.9,532.0 1029.3,579.1 1029.7,412.5 1030.1,472.8 1030.5,592.5 1030.8,507.1 1031.2,470.0 1031.6,453.7 1032.0,469.1 1032.4,398.1 1032.7,532.2 1033.1,400.5 1033.5,550.2 1033.9,403.4 1034.3,433.3 1034.6,489.4 1035.0,417.1 1035.4,409.2 1035.8,595.5 1036.2,591.4 1036.5,532.8 1036.9,546.6 1037.3,430.9 1037.7,403.4 1038.1,450.2 1038.4,499.2 1038.8,556.4 1039.2,490.5 1039.6,474.8 1040.0,413.8 1040.3,428.0 1040.7,496.2 1041.1,453.0 1041.5,485.2 1041.9,526.9 1042.2,453.1 1042.6,553.6 1043.0,519.8 1043.4,571.3 1043.8,497.4 1044.1,517.3 1044.5,601.6 1044.9,468.7 1045.3,546.6 1045.7,556.6 1046.0,445.8 1046.4,468.9 1046.8,478.3 1047.2,425.7 1047.6,467.9 1047.9,458.6 1048.3,542.7 1048.7,596.4 1049.1,395.9 1049.5,530.0 1049.8,531.9 1050.2,452.3 1050.6,569.7 1051.0,490.7 1051.4,412.5 1051.7,403.8 1052.1,526.3 1052.5,584.3 1052.9,498.4 1053.3,596.2 1053.6,449.2 1054.0,440.3 1054.4,569.0 1054.8,452.4 1055.2,535.6 1055.5,521.2 1055.9,482.2 1056.3,544.1 1056.7,539.9 1057.1,599.8 1057.4,575.2 1057.8,546.9 1058.2,472.1 1058.6,529.9 1059.0,451.4 1059.3,592.7 1059.7,538.2 1060.1,431.6 1060.5,566.7 1060.9,558.5 1061.2,573.5 1061.6,599.2 1062.0,498.7 1062.4,427.3 1062.8,425.9 1063.1,399.6 1063.5,423.9 1063.9,542.3 1064.3,391.7 1064.7,485.0 1065.0,505.9 1065.4,435.5 1065.8,525.9 1066.2,532.5 1066.6,512.6 1066.9,400.7 1067.3,527.1 1067.7,417.3 1068.1,407.1 1068.5,571.9 1068.8,566.1 1069.2,571.7 1069.6,424.3 1070.0,462.0 1070.4,448.0 1070.7,467.4 1071.1,429.6 1071.5,512.6 1071.9,565.9 1072.3,588.9 1072.6,563.3 1073.0,490.6 1073.4,472.9 1073.8,468.0 1074.2,528.8 1074.5,535.7 1074.9,473.2 1075.3,528.4 1075.7,426.7 1076.1,404.7 1076.4,567.3 1076.8,430.8 1077.2,575.1 1077.6,572.2 1078.0,441.4 1078.3,457.2 1078.7,509.7 1079.1,461.3 1079.5,409.7 1079.9,509.0 1080.2,427.0 1080.6,520.0 1081.0,437.5 1081.4,532.3 1081.8,566.1 1082.1,430.8 1082.5,575.0 1082.9,548.5 1083.3,540.3 1083.7,535.1 1084.0,458.3 1084.4,416.4 1084.8,544.4 1085.2,479.9 1085.6,580.3 1085.9,449.8 1086.3,548.8 1086.7,551.8 1087.1,549.7 1087.5,527.0 1087.8,445.9 1088.2,589.4 1088.6,460.8 1089.0,458.4 1089.4,576.8 1089.7,590.9 1090.1,488.9 1090.5,404.6 1090.9,517.7 1091.3,569.3 1091.6,582.5 1092.0,453.4 1092.4,573.9 1092.8,559.4 1093.2,572.3 1093.5,569.0 1093.9,538.6 1094.3,492.4 1094.7,486.6 1095.1,530.1 1095.4,449.6 1095.8,521.2 1096.2,427.1 1096.6,466.6 1097.0,396.7 1097.3,407.7 1097.7,413.3 1098.1,407.9 1098.5,437.3 1098.9,439.0 1099.2,578.7 1099.6,504.9 1100.0,401.3 1100.4,435.4 1100.8,570.5 1101.1,531.5 1101.5,453.9 1101.9,394.9 1102.3,475.6 1102.7,466.4 1103.0,458.6 1103.4,597.8 1103.8,565.7 1104.2,552.0 1104.6,519.1 1104.9,575.3 1105.3,568.7 1105.7,517.7 1106.1,482.2 1106.5,465.3 1106.8,504.3 1107.2,438.3 1107.6,436.7 1108.0,565.8 1108.4,421.6 1108.7,463.2 1109.1,584.7 1109.5,541.7 1109.9,531.8 1110.3,413.9 1110.6,414.3 1111.0,409.1 1111.4,435.3 1111.8,436.7 1112.2,420.2 1112.5,416.9 1112.9,590.9 1113.3,588.3 1113.7,540.5 1114.1,549.2 1114.4,454.7 1114.8,491.2 1115.2,477.5 1115.6,533.9 1116.0,449.8 1116.3,463.0 1116.7,423.1 1117.1,525.3 1117.5,594.1 1117.9,535.4 1118.2,420.9 1118.6,450.5 1119.0,528.6 1119.4,518.0 1119.8,484.0 1120.1,396.8 1120.5,422.8 1120.9,448.9 1121.3,523.2 1121.7,551.6 1122.0,557.1 1122.4,554.9 1122.8,447.8 1123.2,571.0 1123.6,444.5 1123.9,456.2 1124.3,448.0 1124.7,458.4 1125.1,487.3 1125.5,546.0 1125.8,433.6 1126.2,438.3 1126.6,531.0 1127.0,486.1 1127.4,593.7 1127.7,403.7 1128.1,414.5 1128.5,504.3 1128.9,428.2 1129.3,548.8 1129.6,497.8 1130.0,510.7 1130.4,526.0 1130.8,538.8 1131.2,501.7 1131.5,451.4 1131.9,542.2 1132.3,420.6 1132.7,467.8 1133.1,523.2 1133.4,478.5 1133.8,545.2 1134.2,550.0 1134.6,543.0 1135.0,522.4 1135.3,460.1 1135.7,495.4 1136.1,530.1 1136.5,587.6 1136.9,576.2 1137.2,538.8 1137.6,552.6 1138.0,402.2 1138.4,479.9 1138.8,589.7 1139.1,543.1 1139.5,346.7 1139.9,562.3 1140.3,463.9 1140.7,402.1 1141.0,538.4 1141.4,489.8 1141.8,483.8 1142.2,417.0 1142.6,449.5 1142.9,551.3 1143.3,563.6 1143.7,409.1 1144.1,513.1 1144.5,458.8 1144.8,532.0 1145.2,444.8 1145.6,584.6 1146.0,478.4 1146.4,537.3 1146.7,492.6 1147.1,530.6 1147.5,544.5 1147.9,466.6 1148.3,395.8 1148.6,407.4 1149.0,457.7 1149.4,548.4 1149.8,509.1 1150.2,498.4 1150.5,403.1 1150.9,462.9 1151.3,509.9 1151.7,542.7 1152.1,555.8 1152.4,470.0 1152.8,551.8 1153.2,403.7 1153.6,492.8 1154.0,519.6 1154.3,566.7 1154.7,576.3 1155.1,549.5 1155.5,546.4 1155.9,490.7 1156.2,493.8 1156.6,469.4 1157.0,589.0 1157.4,476.5 1157.8,442.5 1158.1,564.3 1158.5,500.9 1158.9,491.9 1159.3,558.8 1159.7,411.2 1160.0,418.4 1160.4,518.7 1160.8,403.3 1161.2,584.8 1161.6,564.0 1161.9,459.7 1162.3,569.1 1162.7,480.1 1163.1,517.8 1163.5,490.7 1163.8,586.3 1164.2,466.1 1164.6,588.3 1165.0,467.8 1165.4,453.6 1165.7,599.5 1166.1,413.7 1166.5,430.2 1166.9,525.5 1167.3,585.1 1167.6,563.7 1168.0,549.8 1168.4,396.6 1168.8,408.0 1169.2,561.7 1169.5,564.4 1169.9,590.6 1170.3,475.8 1170.7,516.7 1171.1,461.0 1171.4,415.9 1171.8,538.4 1172.2,542.0 1172.6,408.3 1173.0,521.4 1173.3,539.8 1173.7,557.5 1174.1,464.5 1174.5,396.6 1174.9,442.7 1175.2,434.1 1175.6,476.4 1176.0,484.9 1176.4,489.8 1176.8,430.4 1177.1,473.6 1177.5,445.9 1177.9,574.3 1178.3,565.4 1178.7,590.7 1179.0,485.3 1179.4,556.9 1179.8,436.4 1180.2,473.6 1180.6,478.7 1180.9,465.7 1181.3,440.6 1181.7,590.2 1182.1,498.4 1182.5,546.0 1182.8,444.0 1183.2,545.0 1183.6,537.9 1184.0,580.2 1184.4,462.5 1184.7,588.0 1185.1,577.7 1185.5,430.2 1185.9,486.0 1186.3,487.3 1186.6,585.0 1187.0,538.5 1187.4,430.6 1187.8,508.0 1188.2,551.0 1188.5,419.1 1188.9,557.5 1189.3,540.9 1189.7,552.6 1190.1,433.8 1190.4,580.3 1190.8,482.5 1191.2,533.9 1191.6,451.0 1192.0,402.1 1192.3,405.7 1192.7,520.3 1193.1,551.2 1193.5,545.0 1193.9,410.7 1194.2,405.7 1194.6,591.9 1195.0,489.0 1195.4,583.0 1195.8,558.5 1196.1,554.2 1196.5,575.3 1196.9,483.8 1197.3,462.9 1197.7,406.6 1198.0,598.3 1198.4,417.5 1198.8,258.7 1199.2,419.0 1199.6,533.2 1199.9,581.3 1200.3,522.3 1200.7,522.2 1201.1,512.1 1201.5,415.2 1201.8,597.2 1202.2,544.4 1202.6,588.1 1203.0,574.5 1203.4,441.1 1203.7,560.5 1204.1,518.1 1204.5,454.8 1204.9,514.5 1205.3,599.0 1205.6,405.2 1206.0,537.6 1206.4,488.8 1206.8,507.6 1207.2,545.4 1207.5,438.8 1207.9,410.9 1208.3,429.8 1208.7,472.7 1209.1,527.7 1209.4,497.6 1209.8,564.6 1210.2,454.6 1210.6,438.5 1211.0,526.7 1211.3,551.0 1211.7,496.8 1212.1,415.5 1212.5,494.9 1212.9,543.3 1213.2,477.2 1213.6,568.1 1214.0,446.4 1214.4,541.1 1214.8,478.9 1215.1,419.2 1215.5,457.3 1215.9,428.2 1216.3,523.7 1216.7,575.6 1217.0,560.8 1217.4,531.6 1217.8,406.1 1218.2,516.2 1218.6,560.3 1218.9,467.7 1219.3,497.0 1219.7,490.9 1220.1,501.1 1220.5,413.4 1220.8,504.9 1221.2,455.8 1221.6,520.0 1222.0,415.8 1222.4,462.2 1222.7,418.8 1223.1,549.3 1223.5,587.6 1223.9,531.5 1224.3,481.1 1224.6,481.7 1225.0,525.5 1225.4,441.4 1225.8,399.0 1226.2,579.9 1226.5,504.5 1226.9,547.9 1227.3,499.3 1227.7,458.9 1228.1,407.8 1228.4,530.6 1228.8,515.9 1229.2,397.8 1229.6,428.8 1230.0,578.4 1230.3,546.2 1230.7,451.8 1231.1,485.2 1231.5,544.8 1231.9,574.3 1232.2,427.9 1232.6,538.4 1233.0,524.1 1233.4,547.4 1233.8,426.8 1234.1,486.6 1234.5,539.0 1234.9,467.8 1235.3,512.9 1235.7,497.0 1236.0,514.7 1236.4,571.3 1236.8,549.3 1237.2,431.1 1237.6,528.5 1237.9,411.0 1238.3,471.1 1238.7,545.3 1239.1,553.7 1239.5,584.6 1239.8,461.6 1240.2,516.2 1240.6,537.9 1241.0,567.9 1241.4,581.4 1241.7,471.1 1242.1,438.0 1242.5,454.3 1242.9,551.4 1243.3,413.6 1243.6,453.0 1244.0,538.8 1244.4,585.8 1244.8,491.0 1245.2,559.1 1245.5,481.7 1245.9,460.4 1246.3,519.7 1246.7,425.2 1247.1,499.7 1247.4,539.5 1247.8,593.1 1248.2,566.9 1248.6,445.4 1249.0,488.7 1249.3,409.4 1249.7,416.6 1250.1,597.1 1250.5,440.5 1250.9,482.9 1251.2,548.9 1251.6,448.0 1252.0,483.6 1252.4,427.7 1252.8,566.0 1253.1,478.0 1253.5,433.1 1253.9,460.6 1254.3,525.3 1254.7,495.1 1255.0,466.0 1255.4,463.2 1255.8,483.7 1256.2,499.4 1256.6,479.3 1256.9,528.2 1257.3,475.1 1257.7,416.2 1258.1,413.3 1258.5,477.6 1258.8,581.2 1259.2,493.3 1259.6,484.2 1260.0,404.5 1260.4,501.0 1260.7,412.4 1261.1,448.3 1261.5,443.9 1261.9,464.2 1262.3,430.6 1262.6,439.5 1263.0,405.2 1263.4,498.3 1263.8,457.6 1264.2,572.3 1264.5,564.0 1264.9,502.1 1265.3,580.0 1265.7,474.8 1266.1,411.1 1266.4,580.1 1266.8,596.1 1267.2,410.0 1267.6,485.2 1268.0,407.4 1268.3,539.8 1268.7,572.8 1269.1,422.7 1269.5,538.6 1269.9,506.9 1270.2,436.9 1270.6,457.6 1271.0,449.1 1271.4,444.4 1271.8,506.4 1272.1,411.4 1272.5,584.1 1272.9,483.0 1273.3,489.6 1273.7,549.1 1274.0,413.8 1274.4,445.0 1274.8,545.6 1275.2,544.9 1275.6,502.6 1275.9,550.3 1276.3,529.1 1276.7,553.3 1277.1,571.6 1277.5,546.1 1277.8,562.9 1278.2,494.4 1278.6,574.5 1279.0,527.7 1279.4,412.2 1279.7,504.4 1280.1,582.8 1280.5,505.5 1280.9,469.9 1281.3,479.5 1281.6,570.7 1282.0,478.7 1282.4,449.4 1282.8,541.1 1283.2,576.8 1283.5,531.5 1283.9,403.0 1284.3,423.0 1284.7,466.4 1285.1,555.2 1285.4,571.2 1285.8,560.8 1286.2,428.0 1286.6,540.9 1287.0,568.1 1287.3,502.6 1287.7,447.1 1288.1,507.8 1288.5,488.5 1288.9,477.4 1289.2,398.2 1289.6,460.5 1290.0,539.0 1290.4,471.9 1290.8,531.2 1291.1,492.7 1291.5,454.4 1291.9,549.6 1292.3,593.0 1292.7,553.6 1293.0,557.4 1293.4,491.2 1293.8,582.9 1294.2,603.1 1294.6,531.0 1294.9,552.1 1295.3,423.0 1295.7,420.3 1296.1,516.7 1296.5,483.2 1296.8,456.5 1297.2,527.6 1297.6,402.2 1298.0,529.5 1298.4,549.5 1298.7,551.9 1299.1,400.8 1299.5,415.9 1299.9,567.8 1300.3,565.8 1300.6,571.4 1301.0,518.9 1301.4,473.1 1301.8,569.0 1302.2,479.6 1302.5,587.1 1302.9,509.6 1303.3,396.6 1303.7,403.6 1304.1,577.0 1304.4,466.2 1304.8,440.5 1305.2,408.7 1305.6,478.6 1306.0,586.3 1306.3,395.5 1306.7,564.6 1307.1,486.1 1307.5,558.0 1307.9,573.4 1308.2,557.6 1308.6,437.4 1309.0,533.2 1309.4,433.5 1309.8,441.9 1310.1,452.7 1310.5,590.7 1310.9,581.9 1311.3,552.5 1311.7,439.7 1312.0,424.9 1312.4,555.6 1312.8,519.7 1313.2,553.7 1313.6,548.3 1313.9,473.3 1314.3,515.5 1314.7,565.0 1315.1,501.6 1315.5,409.2 1315.8,497.6 1316.2,561.1 1316.6,518.2 1317.0,566.4 1317.4,557.3 1317.7,530.8 1318.1,553.0 1318.5,455.4 1318.9,433.2 1319.3,422.2 1319.6,492.7 1320.0,493.9 1320.4,464.3 1320.8,549.0 1321.2,449.5 1321.5,409.8 1321.9,492.7 1322.3,483.5 1322.7,406.2 1323.1,491.6 1323.4,504.8 1323.8,579.2 1324.2,536.8 1324.6,465.4 1325.0,585.5 1325.3,571.9 1325.7,578.4 1326.1,483.7 1326.5,449.8 1326.9,581.6 1327.2,562.8 1327.6,542.5 1328.0,419.7 1328.4,486.7 1328.8,419.3 1329.1,588.5 1329.5,452.9 1329.9,569.0 1330.3,559.1 1330.7,525.0 1331.0,555.6 1331.4,467.3 1331.8,413.4 1332.2,561.7 1332.6,493.3 1332.9,404.7 1333.3,493.3 1333.7,546.8 1334.1,554.5 1334.5,566.6 1334.8,447.6 1335.2,401.8 1335.6,587.0 1336.0,502.3 1336.4,447.3 1336.7,430.8 1337.1,574.9 1337.5,425.3 1337.9,570.4 1338.3,548.1 1338.6,449.0 1339.0,587.0 1339.4,582.9 1339.8,418.2 1340.2,507.2 1340.5,517.4 1340.9,492.0 1341.3,596.2 1341.7,484.8 1342.1,541.2 1342.4,574.2 1342.8,585.8 1343.2,539.9 1343.6,588.6 1344.0,498.4 1344.3,557.0 1344.7,415.5 1345.1,487.2 1345.5,479.9 1345.9,529.3 1346.2,415.9 1346.6,422.0 1347.0,525.2 1347.4,593.7 1347.8,552.1 1348.1,522.7 1348.5,449.4 1348.9,549.6 1349.3,466.5 1349.7,457.5 1350.0,508.5 1350.4,414.3 1350.8,421.4 1351.2,572.3 1351.6,452.4 1351.9,424.0 1352.3,508.9 1352.7,442.9 1353.1,584.4 1353.5,494.7 1353.8,545.4 1354.2,573.4 1354.6,504.9 1355.0,546.2 1355.4,501.5 1355.7,577.1 1356.1,511.0 1356.5,500.8 1356.9,585.6 1357.3,502.9 1357.6,469.4 1358.0,579.9 1358.4,509.0 1358.8,547.7 1359.2,507.5 1359.5,503.4 1359.9,573.9 1360.3,422.0 1360.7,596.7 1361.1,533.9 1361.4,550.9 1361.8,591.0 1362.2,561.0 1362.6,405.7 1363.0,572.0 1363.3,562.2 1363.7,585.2 1364.1,459.8 1364.5,563.3 1364.9,564.3 1365.2,533.1 1365.6,545.5 1366.0,462.4 1366.4,496.5 1366.8,521.5 1367.1,591.7 1367.5,547.8 1367.9,410.3 1368.3,572.2 1368.7,555.4 1369.0,568.1 1369.4,564.6 1369.8,548.5 1370.2,522.1 1370.6,429.3 1370.9,514.3 1371.3,571.7 1371.7,596.9 1372.1,439.4 1372.5,548.5 1372.8,471.9 1373.2,531.2 1373.6,472.7 1374.0,447.2 1374.4,531.3 1374.7,482.7 1375.1,483.7 1375.5,583.5 1375.9,536.6 1376.3,454.6 1376.6,450.8 1377.0,519.7 1377.4,414.5 1377.8,554.4 1378.2,558.4 1378.5,418.5 1378.9,423.2 1379.3,412.6 1379.7,508.4 1380.1,463.4 1380.4,504.1 1380.8,515.1 1381.2,551.2 1381.6,525.7 1382.0,407.3 1382.3,467.4 1382.7,573.2 1383.1,563.6 1383.5,562.8 1383.9,274.2 1384.2,440.9 1384.6,464.6 1385.0,474.8 1385.4,461.8 1385.8,528.5 1386.1,465.8 1386.5,557.7 1386.9,407.6 1387.3,541.7 1387.7,463.0 1388.0,556.7 1388.4,570.8 1388.8,524.2 1389.2,405.8 1389.6,414.1 1389.9,560.5 1390.3,461.1 1390.7,508.5 1391.1,569.5 1391.5,559.3 1391.8,603.3 1392.2,537.7 1392.6,481.7 1393.0,516.0 1393.4,502.7 1393.7,489.6 1394.1,605.5 1394.5,583.1 1394.9,496.7 1395.3,594.8 1395.6,599.3 1396.0,508.8 1396.4,532.1 1396.8,509.0 1397.2,521.4 1397.5,564.7 1397.9,556.0 1398.3,413.3 1398.7,400.7 1399.1,535.1 1399.4,478.3 1399.8,565.5 1400.2,406.1 1400.6,460.5 1401.0,529.2 1401.3,562.4 1401.7,489.2 1402.1,518.8 1402.5,487.5 1402.9,473.8 1403.2,487.4 1403.6,552.1 1404.0,522.7 1404.4,419.7 1404.8,534.8 1405.1,569.5 1405.5,480.2 1405.9,575.7 1406.3,554.5 1406.7,509.3 1407.0,415.1 1407.4,505.7 1407.8,470.6 1408.2,600.5 1408.6,576.0 1408.9,517.0 1409.3,545.8 1409.7,568.2 1410.1,594.8 1410.5,534.9 1410.8,492.1 1411.2,439.7 1411.6,571.9 1412.0,425.4 1412.4,407.3 1412.7,566.3 1413.1,557.6 1413.5,489.1 1413.9,574.5 1414.3,588.4 1414.6,495.6 1415.0,413.1 1415.4,439.5 1415.8,506.2 1416.2,460.6 1416.5,427.3 1416.9,490.3 1417.3,508.6 1417.7,550.8 1418.1,574.6 1418.4,519.5 1418.8,602.7 1419.2,458.6 1419.6,510.8 1420.0,472.8 1420.3,495.1 1420.7,421.6 1421.1,523.8 1421.5,540.7 1421.9,442.9 1422.2,429.6 1422.6,420.5 1423.0,509.1 1423.4,584.3 1423.8,404.7 1424.1,406.0 1424.5,564.2 1424.9,475.0 1425.3,520.4 1425.7,547.2 1426.0,465.4 1426.4,595.7 1426.8,485.7 1427.2,513.9 1427.6,582.1 1427.9,518.4 1428.3,444.2 1428.7,461.7 1429.1,577.6 1429.5,477.4 1429.8,480.0 1430.2,400.4 1430.6,400.2 1431.0,441.9 1431.4,464.4 1431.7,594.4 1432.1,486.9 1432.5,406.8 1432.9,520.1 1433.3,463.6 1433.6,579.3 1434.0,588.2 1434.4,523.6 1434.8,559.9 1435.2,485.4 1435.5,445.4 1435.9,548.2 1436.3,413.5 1436.7,512.5 1437.1,573.9 1437.4,445.4 1437.8,526.9 1438.2,449.1 1438.6,552.7 1439.0,446.7 1439.3,503.6 1439.7,490.5 1440.1,413.7 1440.5,531.8 1440.9,419.3 1441.2,534.8 1441.6,513.2 1442.0,570.3 1442.4,504.5 1442.8,417.2 1443.1,479.3 1443.5,554.4 1443.9,416.9 1444.3,446.0 1444.7,425.0 1445.0,566.5 1445.4,459.4 1445.8,433.3 1446.2,543.7 1446.6,461.9 1446.9,514.8 1447.3,565.4 1447.7,525.5 1448.1,572.0 1448.5,452.7 1448.8,548.1 1449.2,529.1 1449.6,489.8 1450.0,537.2 1450.4,528.2 1450.7,435.7 1451.1,463.6 1451.5,523.9 1451.9,449.3 1452.3,503.9 1452.6,493.2 1453.0,517.7 1453.4,441.0 1453.8,538.0 1454.2,559.5 1454.5,508.9 1454.9,482.6 1455.3,444.6 1455.7,569.7 1456.1,578.7 1456.4,550.9 1456.8,471.1 1457.2,566.0 1457.6,498.0 1458.0,454.7 1458.3,500.3 1458.7,415.8 1459.1,421.2 1459.5,524.2 1459.9,594.6 1460.2,592.8 1460.6,537.3 1461.0,468.8 1461.4,396.6 1461.8,566.2 1462.1,407.5 1462.5,565.2 1462.9,535.4 1463.3,425.9 1463.7,559.0 1464.0,507.1 1464.4,467.0 1464.8,572.2 1465.2,461.4 1465.6,541.1 1465.9,432.7 1466.3,576.4 1466.7,553.8 1467.1,499.3 1467.5,436.6 1467.8,587.5 1468.2,504.0 1468.6,590.1 1469.0,596.5 1469.4,531.3 1469.7,504.2 1470.1,471.5 1470.5,515.9 1470.9,496.0 1471.3,432.7 1471.6,448.7 1472.0,559.4 1472.4,585.2 1472.8,513.2 1473.2,589.6 1473.5,534.1 1473.9,473.7 1474.3,556.8 1474.7,552.2 1475.1,551.6 1475.4,592.6 1475.8,477.2 1476.2,442.7 1476.6,531.2 1477.0,479.3 1477.3,524.1 1477.7,573.3 1478.1,469.7 1478.5,524.5 1478.9,580.2 1479.2,561.6 1479.6,423.9 1480.0,466.4 1480.4,492.4 1480.8,534.3 1481.1,498.8 1481.5,488.2 1481.9,498.6 1482.3,534.1 1482.7,412.8 1483.0,509.5 1483.4,582.2 1483.8,528.9 1484.2,560.2 1484.6,565.8 1484.9,584.0 1485.3,419.2 1485.7,419.6 1486.1,440.4 1486.5,476.3 1486.8,413.1 1487.2,538.6 1487.6,566.7 1488.0,558.4 1488.4,508.3 1488.7,503.2 1489.1,469.1 1489.5,588.1 1489.9,565.8 1490.3,562.1 1490.6,514.1 1491.0,416.2 1491.4,426.3 1491.8,420.7 1492.2,570.0 1492.5,425.4 1492.9,525.6 1493.3,549.9 1493.7,568.3 1494.1,522.2 1494.4,537.4 1494.8,496.0 1495.2,562.9 1495.6,427.8 1496.0,437.2 1496.3,474.6 1496.7,540.9 1497.1,467.7 1497.5,421.1 1497.9,580.5 1498.2,427.0 1498.6,463.3 1499.0,589.4 1499.4,557.3 1499.8,541.1 1500.1,555.0 1500.5,475.6 1500.9,547.1 1501.3,479.4 1501.7,493.6 1502.0,529.6 1502.4,502.2 1502.8,577.6 1503.2,473.7 1503.6,461.9 1503.9,549.8 1504.3,411.9 1504.7,447.7 1505.1,562.1 1505.5,411.0 1505.8,435.6 1506.2,552.1 1506.6,493.8 1507.0,410.8 1507.4,441.9 1507.7,536.1 1508.1,490.4 1508.5,543.4 1508.9,588.0 1509.3,602.6 1509.6,562.3 1510.0,491.3 1510.4,550.7 1510.8,588.8 1511.2,571.8 1511.5,515.0 1511.9,580.4 1512.3,583.7 1512.7,492.7 1513.1,528.2 1513.4,498.2 1513.8,453.6 1514.2,579.5 1514.6,577.2 1515.0,438.1 1515.3,450.3 1515.7,573.1 1516.1,413.4 1516.5,461.8 1516.9,521.3 1517.2,528.8 1517.6,578.2 1518.0,467.7 1518.4,471.7 1518.8,436.0 1519.1,473.5 1519.5,550.6 1519.9,484.9 1520.3,537.6 1520.7,550.7 1521.0,535.9 1521.4,493.2 1521.8,518.1 1522.2,563.3 1522.6,479.5 1522.9,446.2 1523.3,457.7 1523.7,469.7 1524.1,444.2 1524.5,592.5 1524.8,441.5 1525.2,551.5 1525.6,533.8 1526.0,590.7 1526.4,480.1 1526.7,555.2 1527.1,434.2 1527.5,466.3 1527.9,510.4 1528.3,576.7 1528.6,536.3 1529.0,563.4 1529.4,512.5 1529.8,424.3 1530.2,447.2 1530.5,471.9 1530.9,438.7 1531.3,596.2 1531.7,521.4 1532.1,580.9 1532.4,593.0 1532.8,592.4 1533.2,432.6 1533.6,413.0 1534.0,554.0 1534.3,482.9 1534.7,515.7 1535.1,578.8 1535.5,536.1 1535.9,572.1 1536.2,564.2 1536.6,510.9 1537.0,513.4 1537.4,545.6 1537.8,581.1 1538.1,575.6 1538.5,568.8 1538.9,470.4 1539.3,450.6 1539.7,548.6 1540.0,515.7 1540.4,598.6 1540.8,451.5 1541.2,586.4 1541.6,584.4 1541.9,400.4 1542.3,448.0 1542.7,561.3 1543.1,518.7 1543.5,444.0 1543.8,572.3 1544.2,567.6 1544.6,521.0 1545.0,500.0 1545.4,578.4 1545.7,476.3 1546.1,542.1 1546.5,534.2 1546.9,444.7 1547.3,553.0 1547.6,474.1 1548.0,499.4 1548.4,461.7 1548.8,452.4 1549.2,554.4 1549.5,422.1 1549.9,528.2 1550.3,542.1 1550.7,560.3 1551.1,473.0 1551.4,417.0 1551.8,536.8 1552.2,414.1 1552.6,583.0 1553.0,410.2 1553.3,574.0 1553.7,516.2 1554.1,503.0 1554.5,492.3 1554.9,410.2 1555.2,536.6 1555.6,512.1 1556.0,528.0 1556.4,510.8 1556.8,567.3 1557.1,498.3 1557.5,576.3 1557.9,402.8 1558.3,491.0 1558.7,525.6 1559.0,402.5 1559.4,525.6 1559.8,443.3 1560.2,599.8 1560.6,567.0 1560.9,520.3 1561.3,528.2 1561.7,563.0 1562.1,543.7 1562.5,592.2 1562.8,413.9 1563.2,531.8 1563.6,413.0 1564.0,492.0 1564.4,541.4 1564.7,548.6 1565.1,416.4 1565.5,545.6 1565.9,520.6 1566.3,399.4 1566.6,434.7 1567.0,509.5 1567.4,546.6 1567.8,484.2 1568.2,560.7 1568.5,425.0 1568.9,571.3 1569.3,553.7 1569.7,452.4 1570.1,431.2 1570.4,528.2 1570.8,574.4 1571.2,515.9 1571.6,406.6 1572.0,486.4 1572.3,502.2 1572.7,415.2 1573.1,411.5 1573.5,505.6 1573.9,438.1 1574.2,568.1 1574.6,499.3 1575.0,576.8 1575.4,489.7 1575.8,486.0 1576.1,551.9 1576.5,532.8 1576.9,524.1 1577.3,468.0 1577.7,439.4 1578.0,589.8 1578.4,393.7 1578.8,585.5 1579.2,454.9 1579.6,524.2 1579.9,539.4 1580.3,573.2 1580.7,457.6 1581.1,563.7 1581.5,432.1 1581.8,590.7 1582.2,436.9 1582.6,522.8 1583.0,587.0 1583.4,488.2 1583.7,531.9 1584.1,480.1 1584.5,533.8 1584.9,533.1 1585.3,479.0 1585.6,416.8 1586.0,536.9 1586.4,570.8 1586.8,545.5 1587.2,575.2 1587.5,434.6 1587.9,470.3 1588.3,581.7 1588.7,401.0 1589.1,470.7 1589.4,407.1 1589.8,464.8 1590.2,568.1 1590.6,470.6 1591.0,442.9 1591.3,481.9 1591.7,557.4 1592.1,517.4 1592.5,530.9 1592.9,584.4 1593.2,504.4 1593.6,518.5 1594.0,562.1 1594.4,419.4 1594.8,532.5 1595.1,579.4 1595.5,510.8 1595.9,565.5 1596.3,583.4 1596.7,576.4 1597.0,388.3 1597.4,422.7 1597.8,552.9 1598.2,411.7 1598.6,541.2 1598.9,535.6 1599.3,596.5 1599.7,546.7 1600.1,452.5 1600.5,411.2 1600.8,579.9 1601.2,508.5 1601.6,589.9 1602.0,579.0 1602.4,207.5 1602.7,577.5 1603.1,445.8 1603.5,568.2 1603.9,594.1 1604.3,306.7 1604.6,513.3 1605.0,571.9 1605.4,534.0 1605.8,560.8 1606.2,473.8 1606.5,540.5 1606.9,439.4 1607.3,591.4 1607.7,556.2 1608.1,519.1 1608.4,556.1 1608.8,591.9 1609.2,440.8 1609.6,492.6 1610.0,543.3 1610.3,505.1 1610.7,490.5 1611.1,561.1 1611.5,427.4 1611.9,465.6 1612.2,434.2 1612.6,441.0 1613.0,519.1 1613.4,554.6 1613.8,474.5 1614.1,496.1 1614.5,505.5 1614.9,552.9 1615.3,402.8 1615.7,533.6 1616.0,591.4 1616.4,544.1 1616.8,560.1 1617.2,537.5 1617.6,453.9 1617.9,582.7 1618.3,435.2 1618.7,545.4 1619.1,480.4 1619.5,561.2 1619.8,454.8 1620.2,589.3 1620.6,561.3 1621.0,419.1 1621.4,464.4 1621.7,453.0 1622.1,437.1 1622.5,493.4 1622.9,439.4 1623.3,572.4 1623.6,456.0 1624.0,527.0 1624.4,461.2 1624.8,536.6 1625.2,532.5 1625.5,409.9 1625.9,422.1 1626.3,589.2 1626.7,555.5 1627.1,590.9 1627.4,540.3 1627.8,560.4 1628.2,417.5 1628.6,485.5 1629.0,517.9 1629.3,519.7 1629.7,489.4 1630.1,416.1 1630.5,516.3 1630.9,577.5 1631.2,550.1 1631.6,568.1 1632.0,588.0 1632.4,586.7 1632.8,253.3 1633.1,568.8 1633.5,456.7 1633.9,583.1 1634.3,509.8 1634.7,421.7 1635.0,464.5 1635.4,557.8 1635.8,573.6 1636.2,573.3 1636.6,579.2 1636.9,587.0 1637.3,502.5 1637.7,408.3 1638.1,413.3 1638.5,547.3 1638.8,501.2 1639.2,448.5 1639.6,460.1 1640.0,454.4 1640.4,494.0 1640.7,583.6 1641.1,554.5 1641.5,443.8 1641.9,490.9 1642.3,546.8 1642.6,567.8 1643.0,466.8 1643.4,560.5 1643.8,508.0 1644.2,596.1 1644.5,437.4 1644.9,528.4 1645.3,532.3 1645.7,563.8 1646.1,546.2 1646.4,586.6 1646.8,540.7 1647.2,464.9 1647.6,542.8 1648.0,472.7 1648.3,595.9 1648.7,458.1 1649.1,457.1 1649.5,524.6 1649.9,472.4 1650.2,475.4 1650.6,464.9 1651.0,429.0 1651.4,571.4 1651.8,521.9 1652.1,570.5 1652.5,550.8 1652.9,578.1 1653.3,415.8 1653.7,577.9 1654.0,457.1 1654.4,497.4 1654.8,539.3 1655.2,556.3 1655.6,554.4 1655.9,572.5 1656.3,545.0 1656.7,591.7 1657.1,583.7 1657.5,569.2 1657.8,588.3 1658.2,571.3 1658.6,168.8 1659.0,562.4 1659.4,537.1 1659.7,444.1 1660.1,545.4 1660.5,475.4 1660.9,529.8 1661.3,465.0 1661.6,465.5 1662.0,482.1 1662.4,548.3 1662.8,562.3 1663.2,524.7 1663.5,418.2 1663.9,552.2 1664.3,515.6 1664.7,543.6 1665.1,465.4 1665.4,536.6 1665.8,466.1 1666.2,514.0 1666.6,426.2 1667.0,493.0 1667.3,493.5 1667.7,571.2 1668.1,455.8 1668.5,522.8 1668.9,566.6 1669.2,472.6 1669.6,489.4 1670.0,587.6 1670.4,417.7 1670.8,475.9 1671.1,524.5 1671.5,416.1 1671.9,547.5 1672.3,447.9 1672.7,572.5 1673.0,568.0 1673.4,432.5 1673.8,415.8 1674.2,532.6 1674.6,419.1 1674.9,445.4 1675.3,422.1 1675.7,451.1 1676.1,547.7 1676.5,540.0 1676.8,415.7 1677.2,441.7 1677.6,562.5 1678.0,527.6 1678.4,515.0 1678.7,549.1 1679.1,550.2 1679.5,417.5 1679.9,487.9 1680.3,429.9 1680.6,555.8 1681.0,539.4 1681.4,524.0 1681.8,563.9 1682.2,583.7 1682.5,483.3 1682.9,423.7 1683.3,507.4 1683.7,561.8 1684.1,408.6 1684.4,569.7 1684.8,501.0 1685.2,489.0 1685.6,518.5 1686.0,573.9 1686.3,552.5 1686.7,547.0 1687.1,539.6 1687.5,406.1 1687.9,562.6 1688.2,520.6 1688.6,458.2 1689.0,426.9 1689.4,482.9 1689.8,474.0 1690.1,531.0 1690.5,533.4 1690.9,503.9 1691.3,531.8 1691.7,409.6 1692.0,486.6 1692.4,437.0 1692.8,434.6 1693.2,543.7 1693.6,417.5 1693.9,499.6 1694.3,527.2 1694.7,473.6 1695.1,441.5 1695.5,487.2 1695.8,485.6 1696.2,487.5 1696.6,452.0 1697.0,528.0 1697.4,476.9 1697.7,478.5 1698.1,519.1 1698.5,471.9 1698.9,447.0 1699.3,520.4 1699.6,475.4 1700.0,509.0 1700.4,466.4 1700.8,484.6 1701.2,481.3 1701.5,431.3 1701.9,410.2 1702.3,432.1 1702.7,476.0 1703.1,450.3 1703.4,473.5 1703.8,477.8 1704.2,491.9 1704.6,457.7 1705.0,467.6 1705.3,437.7 1705.7,467.9 1706.1,426.4 1706.5,442.9 1706.9,438.0 1707.2,481.0 1707.6,403.1 1708.0,422.0 1708.4,436.5 1708.8,414.5 1709.1,441.6 1709.5,474.6 1709.9,445.9 1710.3,485.7 1710.7,433.6 1711.0,407.3 1711.4,465.2 1711.8,415.2 1712.2,463.4 1712.6,445.2 1712.9,431.2 1713.3,455.4 1713.7,465.6 1714.1,481.0 1714.5,449.3 1714.8,444.5 1715.2,438.3 1715.6,436.1 1716.0,488.1 1716.4,437.7 1716.7,434.6 1717.1,422.3 1717.5,427.8 1717.9,442.8 1718.3,469.4 1718.6,478.3 1719.0,474.2 1719.4,452.3 1719.8,477.8 1720.2,439.3 1720.5,422.7 1720.9,447.5 1721.3,445.8 1721.7,429.6 1722.1,473.2 1722.4,469.4 1722.8,469.1 1723.2,430.4 1723.6,466.0 1724.0,453.9 1724.3,434.2 1724.7,454.5 1725.1,437.4 1725.5,465.4 1725.9,461.1 1726.2,437.3 1726.6,447.6 1727.0,463.4 1727.4,463.9 1727.8,460.4 1728.1,439.3 1728.5,462.5 1728.9,471.3 1729.3,445.0 1729.7,436.4 1730.0,461.6 1730.4,448.5 1730.8,426.7 1731.2,429.9 1731.6,425.6 1731.9,380.0 1732.3,450.3 1732.7,455.7 1733.1,413.2 1733.5,428.9 1733.8,433.3 1734.2,351.7 1734.6,448.4 1735.0,414.5 1735.4,396.1 1735.7,420.9 1736.1,430.9 1736.5,400.9 1736.9,422.3 1737.3,407.9 1737.6,434.7 1738.0,393.0 1738.4,421.6 1738.8,394.4 1739.2,397.1 1739.5,415.5 1739.9,418.7 1740.3,410.3 1740.7,402.3 1741.1,384.6 1741.4,398.6 1741.8,418.8 1742.2,416.8 1742.6,409.4 1743.0,423.3 1743.3,427.2 1743.7,431.7 1744.1,416.7 1744.5,424.2 1744.9,431.3 1745.2,413.1 1745.6,425.9 1746.0,405.8 1746.4,401.6 1746.8,432.0 1747.1,426.5 1747.5,297.9 1747.9,426.2 1748.3,430.0 1748.7,418.6 1749.0,428.9 1749.4,398.2 1749.8,436.6 1750.2,433.8 1750.6,425.0 1750.9,434.5 1751.3,417.2 1751.7,418.8 1752.1,400.4 1752.5,400.9 1752.8,358.8 1753.2,415.3 1753.6,440.9 1754.0,438.5 1754.4,411.9 1754.7,420.5 1755.1,415.2 1755.5,428.2 1755.9,431.3 1756.3,408.2 1756.6,415.0 1757.0,413.7 1757.4,425.8 1757.8,420.5 1758.2,424.9 1758.5,418.8 1758.9,415.6 1759.3,421.0 1759.7,411.0 1760.1,430.3 1760.4,418.3 1760.8,436.8 1761.2,445.0 1761.6,370.4 1762.0,424.9 1762.0,430.0 1763.0,455.0 1764.5,490.0 1766.2,520.0 1767.5,547.0 1769.3,580.0 1770.6,592.0 1771.5,625.0 1772.3,596.0 1773.2,631.0 1774.2,588.0 1775.2,628.0 1776.0,600.0 1777.4,608.0 1778.3,560.0 1779.2,441.0 1780.0,560.0 1781.2,606.0 1782.8,610.0 1784.4,615.0 1785.2,560.0 1785.8,499.0 1786.4,570.0 1787.3,625.0 1788.6,632.0 1789.4,600.0 1790.0,577.0 1790.6,610.0 1791.4,640.0 1792.1,690.0 1793.5,720.0 1795.0,750.0 1796.5,900.0 1797.6,1050.0 1798.2,1129.3 1800.0,1129.3 1803.9,1129.3" fill="none" stroke="#000" stroke-width="2.6" stroke-linejoin="round" stroke-linecap="butt"/></g>
<path d="M215.5 1178.5V1193.5M357.5 1178.5V1193.5M500.5 1178.5V1193.5M642.5 1178.5V1193.5M785.5 1178.5V1193.5M927.5 1178.5V1193.5M1070.5 1178.5V1193.5M1212.5 1178.5V1193.5M1355.5 1178.5V1193.5M1497.5 1178.5V1193.5M1640.5 1178.5V1193.5M1782.5 1178.5V1193.5M194.5 1074.5H209.5M194.5 942.5H209.5M194.5 811.5H209.5M194.5 680.5H209.5M194.5 548.5H209.5M194.5 417.5H209.5M194.5 286.5H209.5M194.5 155.5H209.5" stroke="#000" stroke-width="3.333" fill="none"/>
<path d="M201.5 1165.5H209.5M201.5 1142.5H209.5M201.5 1126.5H209.5M201.5 1113.5H209.5M201.5 1103.5H209.5M201.5 1094.5H209.5M201.5 1086.5H209.5M201.5 1080.5H209.5M201.5 1034.5H209.5M201.5 1011.5H209.5M201.5 995.5H209.5M201.5 982.5H209.5M201.5 971.5H209.5M201.5 963.5H209.5M201.5 955.5H209.5M201.5 948.5H209.5M201.5 903.5H209.5M201.5 880.5H209.5M201.5 863.5H209.5M201.5 851.5H209.5M201.5 840.5H209.5M201.5 831.5H209.5M201.5 824.5H209.5M201.5 817.5H209.5M201.5 772.5H209.5M201.5 748.5H209.5M201.5 732.5H209.5M201.5 719.5H209.5M201.5 709.5H209.5M201.5 700.5H209.5M201.5 692.5H209.5M201.5 686.5H209.5M201.5 640.5H209.5M201.5 617.5H209.5M201.5 601.5H209.5M201.5 588.5H209.5M201.5 578.5H209.5M201.5 569.5H209.5M201.5 561.5H209.5M201.5 554.5H209.5M201.5 509.5H209.5M201.5 486.5H209.5M201.5 469.5H209.5M201.5 457.5H209.5M201.5 446.5H209.5M201.5 437.5H209.5M201.5 430.5H209.5M201.5 423.5H209.5M201.5 378.5H209.5M201.5 354.5H209.5M201.5 338.5H209.5M201.5 325.5H209.5M201.5 315.5H209.5M201.5 306.5H209.5M201.5 299.5H209.5M201.5 292.5H209.5M201.5 246.5H209.5M201.5 223.5H209.5M201.5 207.5H209.5M201.5 194.5H209.5M201.5 184.5H209.5M201.5 175.5H209.5M201.5 167.5H209.5M201.5 161.5H209.5M201.5 115.5H209.5" stroke="#000" stroke-width="2.5" fill="none"/>
<rect x="209.5" y="112.5" width="1594.0" height="1066.0" fill="none" stroke="#000" stroke-width="3.333" stroke-linejoin="miter"/>
<text x="1006.41" y="86.90" font-size="50.000" text-anchor="middle">Deaveraged field sums for CA000Y_20250928_225724_664242</text>
<text x="1005.95" y="1385.80" font-size="41.667" text-anchor="middle">Time</text>
<text transform="translate(80.20,645.35) rotate(-90)" font-size="41.667" text-anchor="middle">Peak ADU - average</text>
<text transform="translate(138.65,1328.13) rotate(-30)" font-size="41.667">09-28 23</text>
<text transform="translate(281.18,1328.13) rotate(-30)" font-size="41.667">09-29 00</text>
<text transform="translate(423.70,1328.13) rotate(-30)" font-size="41.667">09-29 01</text>
<text transform="translate(566.23,1328.13) rotate(-30)" font-size="41.667">09-29 02</text>
<text transform="translate(708.75,1328.13) rotate(-30)" font-size="41.667">09-29 03</text>
<text transform="translate(851.28,1328.13) rotate(-30)" font-size="41.667">09-29 04</text>
<text transform="translate(993.80,1328.13) rotate(-30)" font-size="41.667">09-29 05</text>
<text transform="translate(1136.33,1328.13) rotate(-30)" font-size="41.667">09-29 06</text>
<text transform="translate(1278.85,1328.13) rotate(-30)" font-size="41.667">09-29 07</text>
<text transform="translate(1421.38,1328.13) rotate(-30)" font-size="41.667">09-29 08</text>
<text transform="translate(1563.90,1328.13) rotate(-30)" font-size="41.667">09-29 09</text>
<text transform="translate(1706.43,1328.13) rotate(-30)" font-size="41.667">09-29 10</text>
<text x="180.40" y="1089.48" font-size="41.667" text-anchor="end">10<tspan font-size="29.167" dx="0.15" dy="-15.80">1</tspan></text>
<text x="180.40" y="958.18" font-size="41.667" text-anchor="end">10<tspan font-size="29.167" dx="0.15" dy="-15.80">2</tspan></text>
<text x="180.40" y="826.88" font-size="41.667" text-anchor="end">10<tspan font-size="29.167" dx="0.15" dy="-15.80">3</tspan></text>
<text x="180.40" y="695.58" font-size="41.667" text-anchor="end">10<tspan font-size="29.167" dx="0.15" dy="-15.80">4</tspan></text>
<text x="180.40" y="564.28" font-size="41.667" text-anchor="end">10<tspan font-size="29.167" dx="0.15" dy="-15.80">5</tspan></text>
<text x="180.40" y="432.98" font-size="41.667" text-anchor="end">10<tspan font-size="29.167" dx="0.15" dy="-15.80">6</tspan></text>
<text x="180.40" y="301.68" font-size="41.667" text-anchor="end">10<tspan font-size="29.167" dx="0.15" dy="-15.80">7</tspan></text>
<text x="180.40" y="170.38" font-size="41.667" text-anchor="end">10<tspan font-size="29.167" dx="0.15" dy="-15.80">8</tspan></text>
</svg></body></html>
